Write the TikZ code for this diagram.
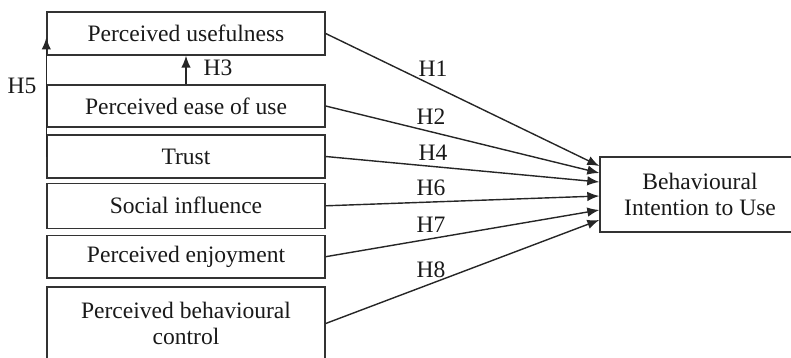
\documentclass[tikz,border=0pt]{standalone}
\usepackage{fontspec}
\setmainfont{Liberation Serif}
\usepackage{tikz}
\usetikzlibrary{arrows,arrows.meta}
\tikzstyle{factor}=[draw=black!80, thick, minimum width=5.56cm,
  inner sep=0pt, align=center, text=black!90]
\tikzstyle{hyp}=[text=black!90]
\tikzstyle{link}=[-{Latex[length=2.4mm,width=1.9mm]}, thick, black!85]
\begin{document}
\begin{tikzpicture}[x=0.02cm,y=-0.02cm,
    every node/.style={font=\fontsize{13.4}{14.5}\selectfont}]
  \useasboundingbox (0,0) rectangle (791,358);
  % determinants
  \node[factor, minimum height=0.86cm] (npu) at (186,33.5){Perceived usefulness};
  \node[factor, minimum height=0.84cm] (npeou) at (186,106){Perceived ease of use};
  \node[factor, minimum height=0.86cm] (ntrust) at (186,156.5){Trust};
  \node[factor, minimum height=0.9cm] (nsi) at (186,205.8){Social influence};
  \node[factor, minimum height=0.86cm] (npe) at (186,256.7){Perceived enjoyment};
  \node[factor, minimum height=1.46cm] (npbc) at (186,323.5){Perceived behavioural\\control};
  % outcome
  \node[factor, minimum width=4cm, minimum height=1.5cm] (nbi) at (700,194.5){Behavioural\\Intention to Use};
  % end points on the outcome box
  \coordinate (e1) at ([yshift=0.57cm]nbi.west);
  \coordinate (e2) at ([yshift=0.43cm]nbi.west);
  \coordinate (e4) at ([yshift=0.25cm]nbi.west);
  \coordinate (e6) at ([yshift=-0.03cm]nbi.west);
  \coordinate (e7) at ([yshift=-0.31cm]nbi.west);
  \coordinate (e8) at ([yshift=-0.51cm]nbi.west);
  \draw[link] (npu.east) -- (e1);
  \draw[link] (npeou.east) -- (e2);
  \draw[link] (ntrust.east) -- (e4);
  \draw[link] (nsi.east) -- (e6);
  \draw[link] (npe.east) -- (e7);
  \draw[link] (npbc.east) -- (e8);
  % links between determinants
  \draw[link] (npeou.north) -- (npu.south);
  \draw[link] (ntrust.west) -- ([yshift=-0.08cm]npu.west);
  % labels
  \node[hyp] (nh1) at (433,69){H1};
  \node[hyp] (nh2) at (431,117){H2};
  \node[hyp] (nh3) at (218,68){H3};
  \node[hyp] (nh4) at (433,153){H4};
  \node[hyp] (nh5) at (22,86){H5};
  \node[hyp] (nh6) at (431,188){H6};
  \node[hyp] (nh7) at (431,225){H7};
  \node[hyp] (nh8) at (431,270){H8};
\end{tikzpicture}
\end{document}
